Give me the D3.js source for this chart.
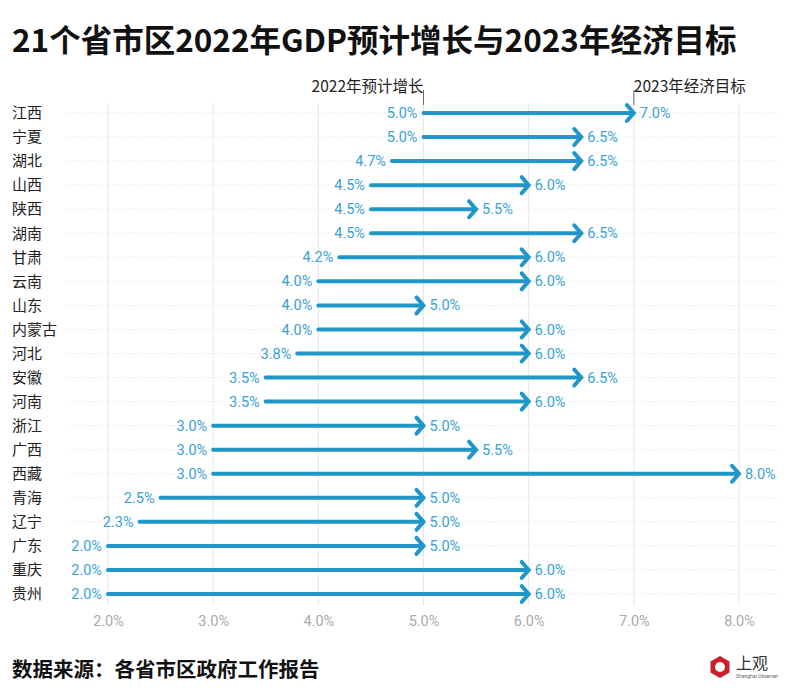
<!DOCTYPE html>
<html><head><meta charset="utf-8">
<script src="https://cdn.jsdelivr.net/npm/d3@7"></script>
<style>body{margin:0;background:#fff}svg{display:block}</style>
</head><body><svg id="c" width="800" height="699"></svg>
<script>
const provinces = ["江西","宁夏","湖北","山西","陕西","湖南","甘肃","云南","山东","内蒙古","河北","安徽","河南","浙江","广西","西藏","青海","辽宁","广东","重庆","贵州"];
const growth2022 = [5.0,5.0,4.7,4.5,4.5,4.5,4.2,4.0,4.0,4.0,3.8,3.5,3.5,3.0,3.0,3.0,2.5,2.3,2.0,2.0,2.0];
const target2023 = [7.0,6.5,6.5,6.0,5.5,6.5,6.0,6.0,5.0,6.0,6.0,6.5,6.0,5.0,5.5,8.0,5.0,5.0,5.0,6.0,6.0];
const xTicks = [2,3,4,5,6,7,8];

const svg = d3.select("#c");
const font = "'Noto Sans CJK SC','Roboto',sans-serif";
const blue = "#2196c8", lblue = "#3aa2d3";
const x = d3.scaleLinear().domain([2,8]).range([108,739]);
const y = d3.scalePoint().domain(provinces).range([113,594]);

svg.append("text").attr("x",12).attr("y",52).attr("font-family",font).attr("font-weight",700)
  .attr("font-size",31.5).attr("fill","#111").text("21个省市区2022年GDP预计增长与2023年经济目标");

// horizontal grid
svg.append("g").selectAll("line").data(provinces).join("line")
  .attr("x1",68).attr("x2",780).attr("y1",d=>y(d)).attr("y2",d=>y(d))
  .attr("stroke","#eee").attr("stroke-dasharray","3,2");
// vertical grid
svg.append("g").selectAll("line").data(xTicks).join("line")
  .attr("x1",d=>x(d)).attr("x2",d=>x(d)).attr("y1",103).attr("y2",606)
  .attr("stroke","#e6e6e6");

// axis
const ax = svg.append("g").attr("transform","translate(0,606)")
  .call(d3.axisBottom(x).tickValues(xTicks).tickFormat(d=>d.toFixed(1)+"%").tickSize(0).tickPadding(10));
ax.select(".domain").remove();
ax.selectAll("text").attr("font-family","Roboto,sans-serif").attr("font-size",14.5).attr("fill","#aaa");

// category labels
svg.append("g").selectAll("text").data(provinces).join("text")
  .attr("x",12).attr("y",d=>y(d)).attr("dy","0.35em").attr("font-family",font)
  .attr("font-size",15).attr("fill","#222").text(d=>d);

const data = provinces.map((p,i)=>({p,a:growth2022[i],b:target2023[i]}));
const g = svg.append("g");
g.selectAll("line").data(data).join("line")
  .attr("x1",d=>x(d.a)).attr("x2",d=>x(d.b)-2).attr("y1",d=>y(d.p)).attr("y2",d=>y(d.p))
  .attr("stroke",blue).attr("stroke-width",4).attr("stroke-linecap","round");
g.selectAll("path").data(data).join("path")
  .attr("d",d=>{const xe=x(d.b), yy=y(d.p); return `M${xe-7},${yy-8}L${xe},${yy}L${xe-7},${yy+8}`;})
  .attr("fill","none").attr("stroke",blue).attr("stroke-width",4).attr("stroke-linecap","round").attr("stroke-linejoin","miter");
g.selectAll("text.s").data(data).join("text").attr("class","s")
  .attr("x",d=>x(d.a)-6).attr("y",d=>y(d.p)).attr("dy","0.35em").attr("text-anchor","end")
  .attr("font-family","Roboto,sans-serif").attr("font-size",14.5).attr("fill",lblue).text(d=>d.a.toFixed(1)+"%");
g.selectAll("text.e").data(data).join("text").attr("class","e")
  .attr("x",d=>x(d.b)+6).attr("y",d=>y(d.p)).attr("dy","0.35em").attr("text-anchor","start")
  .attr("font-family","Roboto,sans-serif").attr("font-size",14.5).attr("fill",lblue).text(d=>d.b.toFixed(1)+"%");

// header annotations
const d0 = data[0];
svg.append("line").attr("x1",x(d0.a)).attr("x2",x(d0.a)).attr("y1",90).attr("y2",105).attr("stroke","#666");
svg.append("text").attr("x",x(d0.a)).attr("y",92).attr("text-anchor","end").attr("font-family",font)
  .attr("font-size",15.5).attr("fill","#222").text("2022年预计增长");
svg.append("line").attr("x1",x(d0.b)).attr("x2",x(d0.b)).attr("y1",90).attr("y2",105).attr("stroke","#666");
svg.append("text").attr("x",x(d0.b)).attr("y",92).attr("text-anchor","start").attr("font-family",font)
  .attr("font-size",15.5).attr("fill","#222").text("2023年经济目标");

svg.append("text").attr("x",12).attr("y",677).attr("font-family",font).attr("font-weight",700)
  .attr("font-size",20.5).attr("fill","#111").text("数据来源：各省市区政府工作报告");

// logo
const lg = svg.append("g").attr("transform","translate(720,667)");
const hex = d3.range(6).map(i=>{const a=Math.PI/3*i+Math.PI/6;return [11*Math.cos(a),11*Math.sin(a)];});
lg.append("path").attr("d","M"+hex.join("L")+"Z").attr("fill","#c8202a");
lg.append("circle").attr("r",5).attr("fill","#fff");
lg.append("text").attr("x",16).attr("y",2).attr("font-family",font).attr("font-size",16).attr("fill","#333").text("上观");
lg.append("text").attr("x",16).attr("y",11).attr("font-family","Roboto,sans-serif").attr("font-size",5).attr("fill","#666").text("Shanghai Observer");
</script></body></html>
